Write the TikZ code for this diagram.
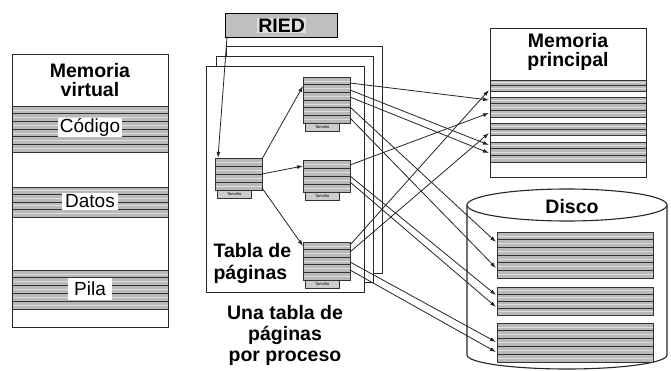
\documentclass[tikz,border=0pt]{standalone}
\usepackage{fontspec}
\setmainfont{Liberation Sans}
\usetikzlibrary{arrows.meta,fit}

\newcommand{\sblock}[6]{%
  \fill[stripefill] (#2,#3) rectangle (#4,#5);
  \pgfmathsetmacro{\hh}{(#5-#3)/#6}
  \foreach \i in {1,...,#6}{\draw[texl] (#2,{#3+(\i-0.5)*\hh}) -- (#4,{#3+(\i-0.5)*\hh});}
  \foreach \i in {0,...,#6}{\draw[darkl] (#2,{#3+\i*\hh}) -- (#4,{#3+\i*\hh});}
  \node[inner sep=0pt, fit={(#2,#3) (#4,#5)}] (#1) {};
}
\newcommand{\ptable}[6]{%
  \sblock{#1}{#2}{#3}{#4}{#5}{#6}
  \draw[darkl] (#2,#3) rectangle (#4,#5);
  \pgfmathsetmacro{\lw}{(#4-#2)*0.72}
  \node[fill=gray!40, draw=black!80, line width=0.6pt, inner sep=0pt,
        minimum width=\lw pt, minimum height=8pt, anchor=north west,
        font=\fontsize{4}{4}\selectfont] (#1l) at (#2+2,#5) {Tamaño};
}

\begin{document}
\begin{tikzpicture}[x=1pt,y=-1pt,
  stripefill/.style={fill=gray!55},
  texl/.style={draw=gray!25,line width=0.5pt},
  darkl/.style={draw=black!80,line width=0.9pt},
  box/.style={draw=black!85,line width=1.1pt},
  arr/.style={-{Latex[length=6pt,width=4pt]},line width=0.8pt,draw=black!85},
  big/.style={font=\fontsize{19.5}{19}\selectfont\bfseries},
  reg/.style={font=\fontsize{19}{19}\selectfont},
]
\useasboundingbox[fill=white] (0,0) rectangle (671,371);

% ---------- Memoria virtual ----------
\fill[white] (12,54) rectangle (168,327);
\sblock{vb1}{12}{106}{168}{152}{6}
\sblock{vb2}{12}{187}{168}{217}{4}
\sblock{vb3}{12}{270}{168}{309}{5}
\node[box, inner sep=0pt, minimum width=156pt, minimum height=273pt, anchor=north west] (vm) at (12,54) {};
\node[big, align=center] (vmt) at (90,80) {Memoria\\virtual};
\node[fill=white, inner sep=0pt, minimum width=64pt, minimum height=19pt, reg] (cod) at (90,127.5) {Código};
\node[fill=white, inner sep=0pt, minimum width=56pt, minimum height=17pt, reg] (dat) at (90,201.5) {Datos};
\node[fill=white, inner sep=0pt, minimum width=44pt, minimum height=22pt, reg] (pil) at (90,289) {Pila};

% ---------- stacked page-table frames ----------
\node[box, fill=white, inner sep=0pt, minimum width=156pt, minimum height=227pt, anchor=north west] (f3) at (226,46) {};
\node[box, fill=white, inner sep=0pt, minimum width=157pt, minimum height=226pt, anchor=north west] (f2) at (216,56) {};
\node[box, fill=white, inner sep=0pt, minimum width=158pt, minimum height=226pt, anchor=north west] (f1) at (206,66) {};

% ---------- RIED ----------
\node[draw=black, line width=1.3pt, fill=gray!50, inner sep=0pt, minimum width=112pt, minimum height=24pt,
      anchor=north west] (ried) at (225,13) {};
\node[big, fill=gray!25, inner sep=1pt] (riedt) at (ried.center) {RIED};

% ---------- page tables ----------
\ptable{rt}{215}{158}{262}{190}{4}
\ptable{tt}{303}{77}{350}{123}{6}
\ptable{mt}{303}{160}{350}{192}{4}
\ptable{bt}{303}{242}{350}{280}{5}

\coordinate (r0) at (227,37);
\coordinate (r1) at (218,158);
\draw[arr] (r0) -- (r1);

\coordinate (rtA) at (262,159);
\coordinate (rtB) at (262,174);
\coordinate (rtC) at (262,188);
\coordinate (ttIn) at (303,86);
\coordinate (mtIn) at (303,166);
\coordinate (btIn) at (303,246);
\draw[arr] (rtA) -- (ttIn);
\draw[arr] (rtB) -- (mtIn);
\draw[arr] (rtC) -- (btIn);

\node[big, align=left, anchor=west, font=\fontsize{19.5}{22}\selectfont\bfseries] (tdp) at (210,264) {Tabla de\\páginas};
\node[big, align=center, font=\fontsize{19.5}{21}\selectfont\bfseries] (utp) at (285,335) {Una tabla de\\páginas\\por proceso};

% ---------- Memoria principal ----------
\fill[white] (490,28) rectangle (646,177);
\sblock{mpb1}{490}{80}{646}{91}{2}
\sblock{mpb2}{490}{97}{646}{117}{3}
\sblock{mpb3}{490}{123}{646}{135}{2}
\sblock{mpb4}{490}{142}{646}{162}{3}
\node[box, inner sep=0pt, minimum width=156pt, minimum height=149pt, anchor=north west] (mp) at (490,28) {};
\node[big, align=center] (mpt) at (568,52) {Memoria\\principal};

% ---------- Disco ----------
\filldraw[fill=white, draw=black!85, line width=1.1pt]
  (467,205) -- (467,355) arc[start angle=180, end angle=360, x radius=100pt, y radius=14pt] -- (667,205);
\draw[draw=black!85, line width=1.1pt, fill=white] (567,205) ellipse [x radius=100pt, y radius=16pt];
\node[big] (disco) at (572,207) {Disco};
\sblock{db1}{497}{232}{653}{278}{6}
\draw[darkl] (497,232) rectangle (653,278);
\sblock{db2}{497}{287}{653}{315}{4}
\draw[darkl] (497,287) rectangle (653,315);
\sblock{db3}{497}{323}{653}{362}{5}
\draw[darkl] (497,323) rectangle (653,362);

% ---------- mapping arrows ----------
\coordinate (s1) at (350,83);
\coordinate (s2) at (350,90);
\coordinate (s3) at (350,97);
\coordinate (s4) at (350,107);
\coordinate (s5) at (350,118);
\coordinate (s6) at (350,165);
\coordinate (s7) at (350,176);
\coordinate (s8) at (350,182);
\coordinate (s9) at (350,245);
\coordinate (s10) at (350,252);
\coordinate (s11) at (350,262);
\coordinate (s12) at (350,270);

\coordinate (m90) at (489,90);
\coordinate (m100) at (489,100);
\coordinate (m113) at (489,113);
\coordinate (m133) at (489,133);
\coordinate (m145) at (489,145);
\coordinate (m153) at (489,153);
\coordinate (d242) at (496,242);
\coordinate (d268) at (496,268);
\coordinate (d295) at (496,295);
\coordinate (d307) at (496,307);
\coordinate (d342) at (496,342);
\coordinate (d352) at (496,352);

\draw[arr] (s1) -- (m100);
\draw[arr] (s2) -- (m145);
\draw[arr] (s3) -- (m153);
\draw[arr] (s4) -- (d242);
\draw[arr] (s5) -- (d268);
\draw[arr] (s6) -- (m113);
\draw[arr] (s7) -- (d295);
\draw[arr] (s8) -- (d307);
\draw[arr] (s9) -- (m90);
\draw[arr] (s10) -- (m133);
\draw[arr] (s11) -- (d342);
\draw[arr] (s12) -- (d352);
\end{tikzpicture}
\end{document}
